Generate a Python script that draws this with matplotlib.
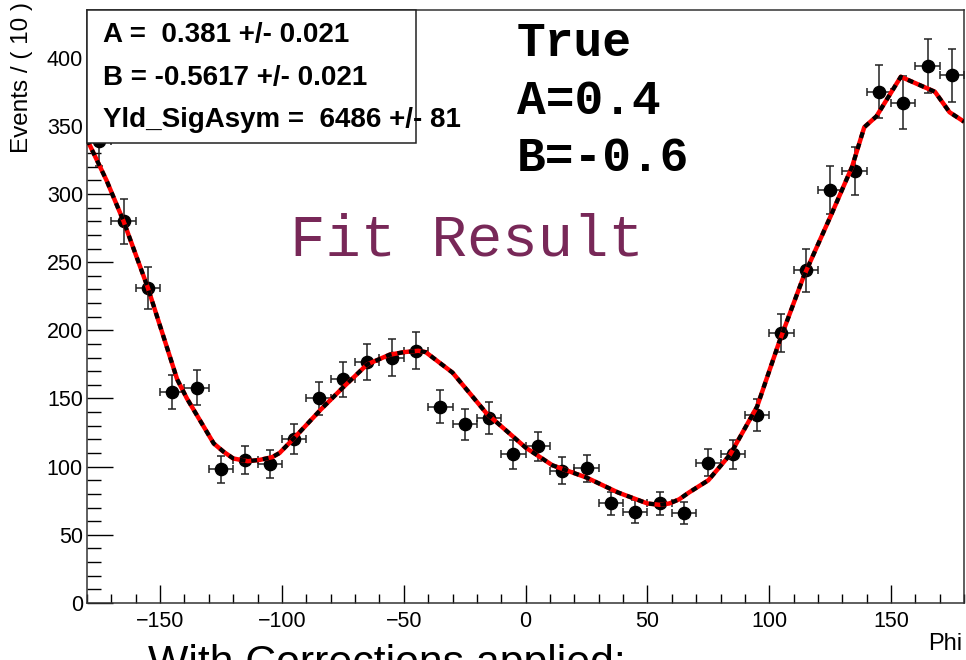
import matplotlib
matplotlib.use("Agg")
import matplotlib.pyplot as plt
from matplotlib.patches import Rectangle
from matplotlib.ticker import MultipleLocator

plt.rcParams.update({
    'font.family': ['Liberation Sans', 'DejaVu Sans'],
    'font.size': 15,
    'axes.linewidth': 1.1,
    'xtick.labelsize': 15.5, 'ytick.labelsize': 15.5,
})

# binned data (bin width 10 deg)
phi = [-175, -165, -155, -145, -135, -125, -115, -105, -95, -85, -75, -65,
       -55, -45, -35, -25, -15, -5, 5, 15, 25, 35, 45, 55,
       65, 75, 85, 95, 105, 115, 125, 135, 145, 155, 165, 175]
events = [339, 280, 231, 155, 158, 98, 105, 102, 120, 150, 164, 177,
          180, 185, 144, 131, 136, 109, 115, 97, 99, 73, 67, 73,
          66, 103, 109, 138, 198, 244, 303, 317, 375, 367, 394, 387]
ev_err = [18.4, 16.7, 15.2, 12.4, 12.6, 9.9, 10.2, 10.1, 11.0, 12.2, 12.8, 13.3,
          13.4, 13.6, 12.0, 11.4, 11.7, 10.4, 10.7, 9.8, 9.9, 8.5, 8.2, 8.5,
          8.1, 10.1, 10.4, 11.7, 14.1, 15.6, 17.4, 17.8, 19.4, 19.2, 19.8, 19.7]
half_bin = 5

# fitted pdf curve
fit_phi = [-180, -172, -165, -155, -143, -139, -128, -124, -120, -114, -109,
           -104, -101, -95, -84, -75, -65, -56, -50, -44, -41, -30, -16, 0,
           11, 25, 38, 50, 55, 59, 63, 67, 75, 84, 95, 104, 114, 125, 134,
           139, 144, 154, 168, 174, 180]
fit_val = [340, 310, 280, 231, 164, 150, 117, 111, 106, 104, 105,
           107, 110, 121, 142, 158, 175, 182, 184, 185, 184, 169, 139, 114,
           101, 92, 81, 73, 72, 73, 76, 81, 90, 109, 144, 191, 239, 283, 320,
           349, 357, 386, 375, 360, 353]

fit_lines = ["A =  0.381 +/- 0.021",
             "B = -0.5617 +/- 0.021",
             "Yld_SigAsym =  6486 +/- 81"]
true_lines = ["True", "A=0.4", "B=-0.6"]

fig = plt.figure(figsize=(9.66, 6.6), dpi=100)
ax = fig.add_axes([0.0901, 0.0864, 0.908, 0.8985])

ax.errorbar(phi, events, yerr=ev_err, xerr=half_bin, fmt='o', color='black',
            ecolor='#222222', elinewidth=1.1, capsize=3.2, capthick=1.1,
            markersize=8.8, zorder=3)

ax.plot(fit_phi, fit_val, color='red', lw=3.2, zorder=4, solid_capstyle='butt',
        solid_joinstyle='round')
ax.plot(fit_phi, fit_val, color='black', lw=3.0, linestyle=(0, (1.4, 1.4)),
        zorder=5)

ax.set_xlim(-180, 180)
ax.set_ylim(0, 435)
ax.xaxis.set_major_locator(MultipleLocator(50))
ax.xaxis.set_minor_locator(MultipleLocator(10))
ax.yaxis.set_major_locator(MultipleLocator(50))
ax.yaxis.set_minor_locator(MultipleLocator(10))
ax.tick_params(axis='x', which='major', direction='in', length=13, width=1.0, pad=6)
ax.tick_params(axis='x', which='minor', direction='in', length=6.5, width=1.0)
ax.tick_params(axis='y', which='major', direction='in', length=19, width=1.0, pad=3)
ax.tick_params(axis='y', which='minor', direction='in', length=10, width=1.0)
for s in ax.spines.values():
    s.set_color('#333333')

# parameter box
ax.add_patch(Rectangle((0, 0.776), 0.375, 0.224, transform=ax.transAxes,
                       facecolor='white', edgecolor='#222222', lw=1.1,
                       zorder=10, clip_on=False))
for yy, txt in zip([0.958, 0.885, 0.815], fit_lines):
    ax.text(0.018, yy, txt, transform=ax.transAxes, fontsize=20,
            fontweight='bold', va='center', ha='left', zorder=11)

for yy, txt in zip([0.944, 0.845, 0.750], true_lines):
    ax.text(0.49, yy, txt, transform=ax.transAxes, fontsize=34.5,
            family='Liberation Mono', fontweight='bold', va='center',
            ha='left', zorder=11)

ax.text(0.231, 0.612, "Fit Result", transform=ax.transAxes, fontsize=42.5,
        family='Liberation Mono', color='#782858', va='center', ha='left',
        zorder=11)

fig.text(0.023, 0.997, "Events / ( 10 )", rotation=90, ha='center', va='top',
         fontsize=17.5)
fig.text(0.996, 0.008, "Phi", ha='right', va='bottom', fontsize=17)
fig.text(0.153, -0.022, "With Corrections applied:", ha='left',
         va='baseline', fontsize=30.8)

fig.savefig("out.png", dpi=100)
